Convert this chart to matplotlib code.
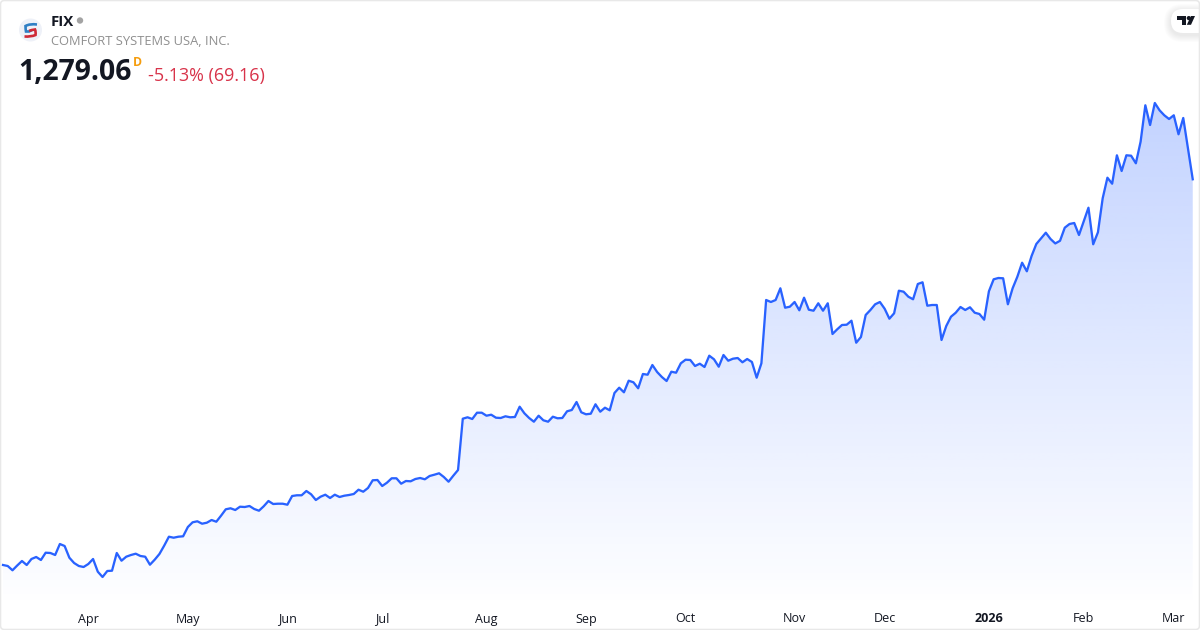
import numpy as np
from matplotlib import pyplot as plt
from matplotlib.patches import Circle, FancyBboxPatch, PathPatch, Polygon
from matplotlib.path import Path

symbol = "FIX"
company = "COMFORT SYSTEMS USA, INC."
last_price = "1,279.06"
change = "-5.13% (69.16)"

month_labels = ["Apr", "May", "Jun", "Jul", "Aug", "Sep", "Oct", "Nov", "Dec", "2026", "Feb", "Mar"]
month_index = [18, 39, 60, 80, 102, 123, 144, 167, 186, 208, 228, 247]

close = [
    353.3, 350.9, 340.6, 352.1, 362.9, 353.3, 367.7, 372.5, 365.3, 382.8, 382.1, 377.3,
    403.7, 398.9, 370.8, 358.1, 350.9, 348.5, 355.7, 367.7, 337.2, 324.5, 338.9, 339.6,
    382.1, 363.6, 373.2, 377.3, 380.4, 374.9, 373.2, 354.0, 366.0, 379.7, 399.6, 421.2,
    418.8, 421.2, 422.2, 444.5, 455.8, 458.2, 452.4, 454.8, 461.3, 457.2, 471.6, 487.0,
    489.4, 485.3, 493.2, 492.5, 494.9, 487.7, 483.6, 494.2, 506.9, 499.7, 500.4, 500.4,
    498.0, 518.9, 520.6, 520.6, 530.9, 523.0, 509.3, 517.2, 522.0, 514.1, 522.0, 516.5,
    519.6, 521.3, 523.7, 534.0, 529.2, 538.1, 556.6, 557.3, 542.9, 550.8, 561.4, 561.4,
    548.4, 554.9, 554.2, 559.7, 562.1, 559.0, 566.9, 570.0, 573.4, 564.5, 553.2, 567.6,
    581.3, 704.4, 707.8, 703.7, 718.8, 718.8, 711.6, 714.0, 706.8, 706.1, 710.2, 707.8,
    708.5, 733.2, 717.4, 706.1, 697.2, 711.6, 700.6, 697.2, 709.2, 705.4, 706.1, 722.2,
    725.3, 744.5, 719.8, 715.0, 716.4, 739.0, 721.2, 730.8, 724.6, 766.1, 778.8, 767.8,
    795.6, 791.8, 777.4, 811.7, 810.0, 833.3, 816.5, 804.5, 794.9, 817.2, 814.8, 837.4,
    846.0, 845.3, 830.9, 836.4, 828.5, 855.6, 847.0, 829.2, 857.3, 843.6, 848.4, 850.1,
    839.8, 847.7, 840.5, 802.8, 837.4, 989.3, 984.5, 989.3, 1017.4, 970.8, 973.2, 984.5,
    964.6, 994.8, 966.0, 963.6, 981.4, 963.6, 981.4, 907.7, 919.0, 929.3, 930.0, 939.6,
    886.8, 900.5, 953.3, 965.3, 979.0, 984.5, 968.4, 944.4, 957.4, 1011.6, 1009.2, 997.2,
    991.0, 1027.7, 1031.8, 975.6, 977.3, 977.3, 893.3, 926.9, 949.2, 958.8, 972.5, 965.3,
    971.8, 958.8, 955.7, 942.0, 1010.2, 1039.0, 1042.1, 1041.4, 979.0, 1017.4, 1045.2, 1078.8,
    1058.2, 1094.9, 1123.7, 1137.4, 1150.8, 1135.7, 1125.0, 1131.4, 1162.8, 1171.7, 1174.1, 1145.3,
    1178.2, 1210.8, 1123.0, 1151.8, 1233.4, 1282.8, 1268.4, 1336.6, 1298.9, 1336.6, 1335.6, 1317.4,
    1369.2, 1456.6, 1409.3, 1462.1, 1444.6, 1432.6, 1423.7, 1432.6, 1387.0, 1426.1, 1351.7, 1279.06,
]

LINE = "#2962FF"
W, H = 1200, 630

plt.rcParams["font.family"] = ["Open Sans", "DejaVu Sans"]

fig = plt.figure(figsize=(12, 6.3), dpi=100, facecolor="white")

# chart area stops at y=600px, the month labels sit below it
ax = fig.add_axes([0, 30 / H, 1, 600 / H])
xlim = (-3 / 4.74, (W - 3) / 4.74)
ylim = (269.3, 1709.3)

xs = np.arange(len(close))
ys = np.array(close)

# fade the area from the top of the line down to the baseline
rows = 256
grad = np.zeros((rows, 2, 4))
grad[:, :, 0] = 41 / 255
grad[:, :, 1] = 98 / 255
grad[:, :, 2] = 1.0
grad[:, :, 3] = np.linspace(0.28, 0.005, rows)[:, None]
im = ax.imshow(grad, extent=[xlim[0], xlim[1], ylim[0], ys.max()], origin="upper",
               aspect="auto", zorder=1, interpolation="bilinear")
verts = [(xs[0], ylim[0])] + list(zip(xs, ys)) + [(xs[-1], ylim[0])]
area = Polygon(verts, closed=True, transform=ax.transData, facecolor="none", edgecolor="none")
ax.add_patch(area)
im.set_clip_path(area)

ax.plot(xs, ys, color=LINE, lw=1.65, zorder=2, solid_joinstyle="round", clip_on=False)

ax.set_xlim(*xlim)
ax.set_ylim(*ylim)
ax.set_yticks([])
ax.set_xticks(month_index)
ax.set_xticklabels(month_labels)
ax.tick_params(axis="x", length=0, pad=9, labelsize=9, labelcolor="#131722")
for lab in ax.get_xticklabels():
    if lab.get_text() == "2026":
        lab.set_fontweight("bold")
for s in ax.spines.values():
    s.set_visible(False)
ax.patch.set_alpha(0)

# overlay in pixel coordinates for header, logo and card frame
ov = fig.add_axes([0, 0, 1, 1], zorder=5)
ov.set_xlim(0, W)
ov.set_ylim(H, 0)
ov.axis("off")

ov.text(51, 21.5, symbol, fontsize=10.8, fontweight="bold", color="#131722", va="center")
ov.add_patch(Circle((80, 20.5), 3.2, fc="#a3a3a3", ec="none"))
ov.text(51, 41.5, company, fontsize=9.3, color="#8f8f8f", va="center")
ov.text(18.5, 73, last_price, fontsize=20.4, fontweight="bold", color="#131722", va="center")
ov.text(133, 62, "D", fontsize=8.8, fontweight="bold", color="#f59d0e", va="center")
ov.text(148, 76, change, fontsize=12.9, color="#d8334a", va="center")

# company logo
ov.add_patch(Circle((30.5, 30), 11.5, fc="#eef1f8", ec="none"))
top = Path([(37, 24.5), (30, 23.5), (25.5, 26), (25.5, 29.5), (26, 31.5), (29, 31.5), (32, 30)],
           [Path.MOVETO, Path.CURVE3, Path.CURVE3, Path.CURVE3, Path.CURVE3, Path.LINETO, Path.LINETO])
bot = Path([(24.5, 36.5), (31, 37), (35.5, 35), (36, 31.5), (35, 29.5), (32, 30), (29, 31)],
           [Path.MOVETO, Path.CURVE3, Path.CURVE3, Path.CURVE3, Path.CURVE3, Path.LINETO, Path.LINETO])
ov.add_patch(PathPatch(top, fc="none", ec="#2f7fc4", lw=1.9))
ov.add_patch(PathPatch(bot, fc="none", ec="#cf2a37", lw=1.9))

# tradingview badge, the shadow is a stack of faint pills
for grow in [7, 6, 5, 4, 3, 2, 1]:
    ov.add_patch(FancyBboxPatch((1171 - grow, 11 - grow), 40 + 2 * grow, 24 + 2 * grow,
                                boxstyle="round,pad=0,rounding_size=%d" % (12 + grow),
                                fc="black", ec="none", alpha=0.012))
ov.add_patch(FancyBboxPatch((1171, 9), 40, 24, boxstyle="round,pad=0,rounding_size=12",
                            fc="white", ec="none"))
ov.add_patch(Polygon([(1176.8, 16), (1186.3, 16), (1186.3, 24.8), (1182, 24.8), (1182, 20.3), (1176.8, 20.3)],
                     fc="#131722", ec="none"))
ov.add_patch(Circle((1188.8, 18.1), 2.1, fc="#131722", ec="none"))
ov.add_patch(Polygon([(1191, 16), (1195, 16), (1191, 24.8), (1186.8, 24.8)],
                     fc="#131722", ec="none"))
# card frame goes on last so the badge does not hide it
ov.add_patch(FancyBboxPatch((0.5, 0.5), W - 1, H - 1, boxstyle="round,pad=0,rounding_size=4",
                            fc="none", ec="#e8e8e8", lw=1.1))

fig.savefig("out.png", dpi=100)
